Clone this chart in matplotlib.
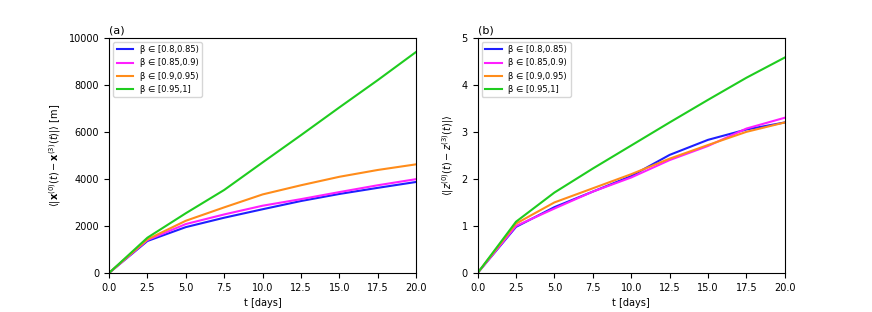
import matplotlib
matplotlib.use('Agg')
import matplotlib.pyplot as plt

t = [0, 2.5, 5, 7.5, 10, 12.5, 15, 17.5, 20]
labels = ['β ∈ [0.8,0.85)', 'β ∈ [0.85,0.9)', 'β ∈ [0.9,0.95)', 'β ∈ [0.95,1]']
colors = ['#1f1fff', '#ff1fff', '#ff8c1a', '#1fcc1f']

# horizontal distance [m]
dx_blue = [0, 1360, 1950, 2350, 2710, 3060, 3360, 3620, 3870]
dx_magenta = [0, 1400, 2080, 2490, 2860, 3140, 3440, 3730, 3990]
dx_orange = [0, 1430, 2220, 2790, 3340, 3730, 4090, 4380, 4620]
dx_green = [0, 1500, 2540, 3530, 4700, 5860, 7040, 8200, 9400]

# vertical distance
dz_blue = [0, 0.98, 1.40, 1.73, 2.06, 2.51, 2.83, 3.05, 3.20]
dz_magenta = [0, 1.00, 1.37, 1.73, 2.03, 2.40, 2.70, 3.07, 3.30]
dz_orange = [0, 1.05, 1.50, 1.80, 2.10, 2.43, 2.72, 3.00, 3.20]
dz_green = [0, 1.09, 1.71, 2.22, 2.71, 3.20, 3.68, 4.15, 4.58]

plt.rcParams['font.size'] = 7

fig, (ax1, ax2) = plt.subplots(1, 2, figsize=(8.72, 3.12), dpi=100)
fig.subplots_adjust(left=0.125, right=0.9, bottom=0.125, top=0.879, wspace=0.2)

for y, c, lab in zip([dx_blue, dx_magenta, dx_orange, dx_green], colors, labels):
    ax1.plot(t, y, color=c, label=lab)
ax1.set_xlim(0, 20)
ax1.set_ylim(0, 10000)
ax1.set_xlabel('t [days]')
ax1.set_ylabel(r'$\langle|\mathbf{x}^{(0)}(t)-\mathbf{x}^{(3)}(t)|\rangle$ [m]')
ax1.set_title('(a)', loc='left', fontsize=8, pad=3)
ax1.legend(loc='upper left', fontsize=6)

for y, c, lab in zip([dz_blue, dz_magenta, dz_orange, dz_green], colors, labels):
    ax2.plot(t, y, color=c, label=lab)
ax2.set_xlim(0, 20)
ax2.set_ylim(0, 5)
ax2.set_xlabel('t [days]')
ax2.set_ylabel(r'$\langle|z^{(0)}(t)-z^{(3)}(t)|\rangle$')
ax2.set_title('(b)', loc='left', fontsize=8, pad=3)
ax2.legend(loc='upper left', fontsize=6)

plt.savefig('out.png')
